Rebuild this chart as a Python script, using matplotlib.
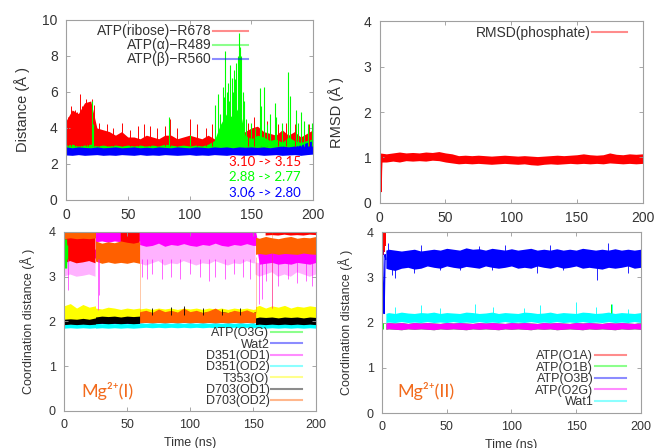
import matplotlib
matplotlib.use('Agg')
import matplotlib.pyplot as plt
from matplotlib.lines import Line2D

plt.rcParams['font.family'] = ['Liberation Sans', 'DejaVu Sans']

nan = float('nan')

RED = '#ff0000'
GREEN = '#00ff00'
BLUE = '#0000ff'
MAGENTA = '#ff00ff'
CYAN = '#00ffff'
YELLOW = '#ffff00'
BLACK = '#000000'
ORANGE = '#ff6000'
NOTE_ORANGE = '#f26b1d'

# ---------------- top left : distances to arginines ----------------
T5 = list(range(0, 201, 5))

ribose_lo = [2.95, 2.9, 2.95, 2.9, 2.95, 2.9, 2.9, 2.95, 2.9, 2.9, 2.95, 2.9, 2.9, 2.95,
             2.9, 2.9, 2.95, 2.9, 2.9, 2.95, 2.9, 2.9, 2.95, 2.9, 2.9, 2.95, 2.9, 2.9,
             2.95, 2.9, 2.9, 2.95, 2.9, 2.9, 2.95, 2.9, 2.9, 2.95, 2.9, 2.9, 2.95]
ribose_hi = [4.4, 5.0, 4.8, 5.4, 5.5, 4.0, 3.9, 3.8, 3.6, 3.8, 3.5, 3.5, 3.4, 3.6, 3.5,
             3.4, 3.6, 3.6, 3.4, 3.5, 3.6, 3.5, 3.4, 3.6, 3.4, 3.3, 3.3, 3.4, 3.5, 3.8,
             4.0, 4.1, 3.8, 3.7, 3.6, 3.9, 3.6, 3.8, 3.5, 3.7, 3.9]
ribose_spike_t = [2, 4, 7, 9, 11, 13, 16, 18, 21, 23, 27, 33, 38, 45, 52, 58, 63, 68, 74,
                  80, 84, 90, 100, 106, 113, 118, 147, 152, 158, 163, 172, 178, 185, 193, 197]
ribose_spike_h = [4.6, 5.2, 5.0, 4.9, 5.9, 5.2, 5.6, 5.4, 5.6, 5.3, 4.3, 4.2, 4.0, 4.3, 3.9,
                  4.1, 4.2, 4.1, 4.0, 4.1, 4.5, 4.0, 4.5, 4.2, 4.0, 4.2, 4.3, 4.6, 4.3, 4.4,
                  4.2, 4.3, 4.2, 4.1, 4.2]

alpha_lo = [2.8, 2.82, 2.8, 2.78, 2.8, 2.82, 2.8, 2.78, 2.8, 2.82, 2.8, 2.78, 2.8, 2.82,
            2.8, 2.78, 2.8, 2.82, 2.8, 2.78, 2.8, 2.82, 2.8, 2.78, 2.8, 2.82, 2.8, 2.78,
            2.8, 2.82, 2.8, 2.78, 2.8, 2.82, 2.8, 2.78, 2.8, 2.82, 2.8, 2.78, 2.8]
alpha_hi = [3.05, 3.1, 3.0, 3.05, 3.1, 3.0, 3.05, 3.0, 3.05, 3.0, 3.05, 3.0, 3.05, 3.0,
            3.05, 3.0, 3.1, 3.05, 3.0, 3.05, 3.0, 3.05, 3.0, 3.1, 3.3, 4.2, 4.8, 4.6,
            5.2, 3.6, 3.4, 3.6, 3.5, 3.3, 3.4, 3.2, 3.5, 3.3, 3.2, 3.3, 3.4]
alpha_spike_t = [21, 22, 83, 100, 121, 123, 125, 127, 128, 129, 130, 131, 132, 133, 134,
                 135, 136, 137, 138, 139, 140, 141, 142, 143, 144, 146, 150, 153, 157, 158,
                 160, 163, 165, 169, 170, 175, 180, 181, 186, 188, 190, 193, 196, 199]
alpha_spike_h = [5.5, 4.2, 4.6, 3.6, 5.3, 5.9, 4.8, 6.3, 5.7, 8.3, 6.0, 6.5, 5.5, 7.5, 6.8,
                 6.0, 7.2, 6.7, 7.6, 8.0, 9.3, 8.5, 8.0, 6.0, 5.5, 4.5, 4.3, 4.0, 6.2, 5.2,
                 6.3, 4.2, 4.8, 5.4, 4.6, 4.3, 7.1, 5.8, 5.0, 4.3, 4.9, 4.4, 4.2, 4.3]

beta_lo = [2.5, 2.48, 2.52, 2.48, 2.5, 2.52, 2.48, 2.5, 2.48, 2.52, 2.5, 2.48, 2.52, 2.48,
           2.5, 2.48, 2.52, 2.5, 2.48, 2.5, 2.52, 2.48, 2.5, 2.48, 2.52, 2.5, 2.48, 2.52,
           2.5, 2.48, 2.5, 2.52, 2.48, 2.5, 2.52, 2.48, 2.5, 2.52, 2.48, 2.52, 2.55]
beta_hi = [2.95, 2.9, 2.95, 2.92, 2.9, 2.95, 2.9, 2.92, 2.95, 2.9, 2.92, 2.95, 2.9, 2.93,
           2.9, 2.95, 2.92, 2.9, 2.95, 2.92, 2.9, 2.95, 2.93, 2.9, 2.95, 2.92, 2.95, 2.9,
           2.95, 2.93, 2.95, 2.92, 2.95, 2.9, 2.95, 3.0, 2.95, 3.0, 3.05, 3.2, 3.3]

top_labels = ['ATP(ribose)−R678', 'ATP(α)−R489', 'ATP(β)−R560']
top_notes = ['3.10 -> 3.15', '2.88 -> 2.77', '3.06 -> 2.80']

# ---------------- top right : phosphate RMSD ----------------
rmsd_lo = [0.9, 0.9, 0.92, 0.9, 0.93, 0.92, 0.93, 0.92, 0.94, 0.93, 0.9, 0.88, 0.86, 0.87,
           0.86, 0.87, 0.86, 0.85, 0.86, 0.87, 0.86, 0.85, 0.86, 0.84, 0.83, 0.85, 0.86,
           0.85, 0.86, 0.87, 0.86, 0.87, 0.86, 0.87, 0.86, 0.88, 0.87, 0.86, 0.87, 0.86, 0.87]
rmsd_hi = [1.1, 1.08, 1.1, 1.12, 1.1, 1.11, 1.1, 1.12, 1.11, 1.13, 1.1, 1.08, 1.04, 1.05,
           1.04, 1.05, 1.04, 1.03, 1.04, 1.05, 1.04, 1.03, 1.04, 1.03, 1.02, 1.03, 1.04,
           1.05, 1.04, 1.05, 1.06, 1.08, 1.06, 1.05, 1.06, 1.1, 1.07, 1.06, 1.08, 1.07, 1.08]
rmsd_start_t = [0, 0.4, 0.7, 1.0, 1.3, 1.7, 2.2]
rmsd_start_v = [1.1, 0.8, 1.05, 0.25, 0.7, 1.0, 0.95]

# ---------------- bottom left : Mg2+(I) coordination ----------------
BL_T = [0, 5, 10, 15, 20, 25,
        25, 30, 35, 40, 45, 50, 55, 60,
        60, 65, 70, 75, 80, 85, 90, 95, 100, 105, 110, 115, 120, 125, 130, 135, 140, 145, 150,
        152,
        152, 155, 160, 165, 170, 175, 180, 185, 190, 195, 200]

red1_lo = [3.3, 3.35, 3.3, 3.32, 3.35, 3.3,
           nan, nan, nan, nan, 3.7, 3.72, 3.7, 3.72,
           nan, nan, nan, nan, nan, nan, nan, nan, nan, nan, nan, nan, nan, nan, nan, nan, nan, nan, nan,
           nan,
           nan, nan, 3.92, 3.93, 3.92, 3.94, 3.92, 3.93, 3.92, 3.94, 3.93]
red1_hi = [3.9, 3.88, 3.9, 3.88, 3.9, 3.88,
           nan, nan, nan, nan, 4.02, 4.02, 4.02, 4.02,
           nan, nan, nan, nan, nan, nan, nan, nan, nan, nan, nan, nan, nan, nan, nan, nan, nan, nan, nan,
           nan,
           nan, nan, 4.02, 4.02, 4.02, 4.02, 4.02, 4.02, 4.02, 4.02, 4.02]

wat2_lo = [1.95, 1.96, 1.95, 1.96, 1.95, 1.96,
           1.95, 1.96, 1.95, 1.96, 1.95, 1.96, 1.95, 1.96,
           1.97, 1.98, 1.97, 1.98, 1.97, 1.98, 1.97, 1.98, 1.97, 1.98, 1.97, 1.98, 1.97, 1.98, 1.97, 1.98, 1.97, 1.98, 1.97,
           1.98,
           1.95, 1.96, 1.95, 1.96, 1.95, 1.96, 1.95, 1.96, 1.95, 1.96, 1.95]
wat2_hi = [2.06, 2.08, 2.07, 2.08, 2.06, 2.08,
           2.07, 2.08, 2.06, 2.08, 2.07, 2.08, 2.06, 2.08,
           2.1, 2.12, 2.1, 2.12, 2.1, 2.12, 2.1, 2.12, 2.1, 2.12, 2.1, 2.12, 2.1, 2.12, 2.1, 2.12, 2.1, 2.12, 2.1,
           2.12,
           2.06, 2.08, 2.07, 2.08, 2.06, 2.08, 2.07, 2.08, 2.06, 2.08, 2.07]

# D351(OD1): dense core and the paler streaky fringe below it
od1_lo = [3.4, 3.42, 3.4, 3.42, 3.4, 3.42,
          3.78, 3.8, 3.77, 3.8, 3.78, 3.8, 3.77, 3.8,
          3.72, 3.68, 3.7, 3.75, 3.68, 3.72, 3.7, 3.74, 3.7, 3.68, 3.72, 3.7, 3.75, 3.7, 3.68, 3.72, 3.7, 3.74, 3.7,
          3.7,
          3.8, 3.28, 3.3, 3.32, 3.28, 3.3, 3.28, 3.32, 3.3, 3.28, 3.32]
od1_hi = [3.6, 3.62, 3.6, 3.62, 3.6, 3.62,
          4.02, 4.02, 4.02, 4.02, 4.02, 4.02, 4.02, 4.02,
          4.02, 4.02, 4.02, 4.02, 4.02, 4.02, 4.02, 4.02, 4.02, 4.02, 4.02, 4.02, 4.02, 4.02, 4.02, 4.02, 4.02, 4.02, 4.02,
          4.02,
          4.02, 3.6, 3.58, 3.6, 3.58, 3.6, 3.6, 3.58, 3.6, 3.6, 3.58]
od1_pale_lo = [3.0, 3.05, 3.0, 3.02, 3.05, 3.0,
               nan, nan, nan, nan, nan, nan, nan, nan,
               3.3, 3.25, 3.3, 3.35, 3.25, 3.3, 3.28, 3.35, 3.3, 3.25, 3.3, 3.28, 3.35, 3.3, 3.25, 3.3, 3.28, 3.35, 3.3,
               3.3,
               3.05, 3.0, 3.05, 3.1, 3.0, 3.05, 3.0, 3.1, 3.05, 3.0, 3.05]
od1_pale_hi = [3.35, 3.35, 3.35, 3.35, 3.35, 3.35,
               nan, nan, nan, nan, nan, nan, nan, nan,
               3.72, 3.7, 3.72, 3.75, 3.7, 3.72, 3.7, 3.74, 3.72, 3.7, 3.72, 3.7, 3.75, 3.72, 3.7, 3.72, 3.7, 3.74, 3.72,
               3.72,
               3.32, 3.3, 3.32, 3.34, 3.3, 3.32, 3.3, 3.34, 3.32, 3.3, 3.32]
od1_dip_t = [3, 27, 28, 62, 66, 70, 78, 85, 92, 100, 108, 115, 120, 128, 135, 142, 148,
             155, 157, 160, 165, 170, 178, 185, 192, 197]
od1_dip_v = [2.7, 2.25, 2.6, 3.0, 2.95, 3.05, 2.95, 3.0, 2.95, 3.05, 3.0, 2.9, 3.0, 2.95,
             3.05, 3.0, 2.95, 2.4, 2.5, 2.9, 2.3, 2.8, 2.95, 2.85, 2.9, 2.8]

od2_lo = [1.85, 1.86, 1.85, 1.86, 1.85, 1.86,
          1.85, 1.86, 1.85, 1.86, 1.85, 1.86, 1.85, 1.86,
          1.86, 1.87, 1.86, 1.87, 1.86, 1.87, 1.86, 1.87, 1.86, 1.87, 1.86, 1.87, 1.86, 1.87, 1.86, 1.87, 1.86, 1.87, 1.86,
          1.87,
          1.85, 1.86, 1.85, 1.86, 1.85, 1.86, 1.85, 1.86, 1.85, 1.86, 1.85]
od2_hi = [1.96, 1.95, 1.96, 1.95, 1.96, 1.95,
          1.96, 1.95, 1.96, 1.95, 1.96, 1.95, 1.96, 1.95,
          1.97, 1.96, 1.97, 1.96, 1.97, 1.96, 1.97, 1.96, 1.97, 1.96, 1.97, 1.96, 1.97, 1.96, 1.97, 1.96, 1.97, 1.96, 1.97,
          1.96,
          1.96, 1.95, 1.96, 1.95, 1.96, 1.95, 1.96, 1.95, 1.96, 1.95, 1.96]

t353_lo = [2.0, 2.02, 2.0, 2.02, 2.0, 2.02,
           2.05, 2.04, 2.05, 2.04, 2.05, 2.04, 2.05, 2.04,
           2.0, 2.02, 2.0, 2.02, 2.0, 2.02, 2.0, 2.02, 2.0, 2.02, 2.0, 2.02, 2.0, 2.02, 2.0, 2.02, 2.0, 2.02, 2.0,
           2.02,
           2.0, 2.02, 2.0, 2.02, 2.0, 2.02, 2.0, 2.02, 2.0, 2.02, 2.0]
t353_hi = [2.35, 2.4, 2.3, 2.38, 2.32, 2.35,
           2.3, 2.28, 2.32, 2.3, 2.27, 2.3, 2.28, 2.3,
           2.28, 2.3, 2.27, 2.3, 2.28, 2.3, 2.27, 2.3, 2.28, 2.3, 2.27, 2.3, 2.28, 2.3, 2.27, 2.3, 2.28, 2.3, 2.27,
           2.28,
           2.33, 2.36, 2.3, 2.35, 2.32, 2.36, 2.3, 2.34, 2.32, 2.35, 2.33]

d703a_lo = [1.93, 1.94, 1.93, 1.94, 1.93, 1.94,
            1.95, 1.96, 1.95, 1.96, 1.95, 1.96, 1.95, 1.96,
            2.0, 2.01, 2.0, 2.01, 2.0, 2.01, 2.0, 2.01, 2.0, 2.01, 2.0, 2.01, 2.0, 2.01, 2.0, 2.01, 2.0, 2.01, 2.0,
            2.01,
            1.93, 1.94, 1.93, 1.94, 1.93, 1.94, 1.93, 1.94, 1.93, 1.94, 1.93]
d703a_hi = [2.05, 2.06, 2.05, 2.07, 2.05, 2.08,
            2.1, 2.12, 2.11, 2.12, 2.1, 2.12, 2.11, 2.12,
            2.2, 2.22, 2.2, 2.22, 2.2, 2.22, 2.2, 2.22, 2.2, 2.22, 2.2, 2.22, 2.2, 2.22, 2.2, 2.22, 2.2, 2.22, 2.2,
            2.22,
            2.08, 2.1, 2.09, 2.1, 2.08, 2.1, 2.09, 2.1, 2.08, 2.1, 2.09]
d703a_spike_t = [70, 85, 95, 110, 125, 140]
d703a_spike_h = [2.3, 2.32, 2.35, 2.3, 2.28, 2.3]

d703b_lo = [3.85, 3.87, 3.85, 3.86, 3.85, 3.87,
            3.35, 3.3, 3.33, 3.3, 3.32, 3.3, 3.33, 3.3,
            1.97, 1.98, 1.97, 1.98, 1.97, 1.98, 1.97, 1.98, 1.97, 1.98, 1.97, 1.98, 1.97, 1.98, 1.97, 1.98, 1.97, 1.98, 1.97,
            1.98,
            3.5, 3.52, 3.5, 3.53, 3.5, 3.52, 3.51, 3.5, 3.53, 3.51, 3.5]
d703b_hi = [4.02, 4.02, 4.02, 4.02, 4.02, 4.02,
            3.8, 3.75, 3.78, 3.76, 3.8, 3.77, 3.75, 3.78,
            2.22, 2.25, 2.2, 2.28, 2.22, 2.25, 2.21, 2.3, 2.22, 2.25, 2.2, 2.24, 2.3, 2.22, 2.2, 2.25, 2.22, 2.26, 2.2,
            2.22,
            3.88, 3.86, 3.9, 3.87, 3.85, 3.88, 3.9, 3.86, 3.88, 3.87, 3.9]
d703b_jump_t = [60, 152, 165]
d703b_jump_lo = [2.2, 2.2, 2.3]
d703b_jump_hi = [3.3, 3.45, 4.0]

o3g_start_t = [0.6, 1.0, 1.4, 1.8, 2.2]
o3g_start_lo = [3.2, 3.25, 3.2, 3.3, 3.4]
o3g_start_hi = [3.85, 3.8, 3.85, 3.75, 3.7]

mg1_labels = ['ATP(O3G)', 'Wat2', 'D351(OD1)', 'D351(OD2)', 'T353(O)', 'D703(OD1)', 'D703(OD2)']
mg1_colors = [GREEN, BLUE, MAGENTA, CYAN, YELLOW, BLACK, ORANGE]

# ---------------- bottom right : Mg2+(II) coordination ----------------
BR_T = [3] + list(range(5, 201, 5))

o3b_lo = [3.2, 3.18, 3.15, 3.2, 3.22, 3.18, 3.2, 3.25, 3.22, 3.2, 3.25, 3.22, 3.2, 3.24,
          3.22, 3.2, 3.25, 3.22, 3.2, 3.22, 3.25, 3.2, 3.22, 3.2, 3.25, 3.22, 3.2, 3.24,
          3.2, 3.22, 3.25, 3.2, 3.22, 3.2, 3.18, 3.22, 3.2, 3.22, 3.25, 3.2, 3.22]
o3b_hi = [3.6, 3.62, 3.6, 3.58, 3.6, 3.62, 3.58, 3.6, 3.62, 3.6, 3.64, 3.62, 3.6, 3.65,
          3.62, 3.63, 3.6, 3.64, 3.62, 3.6, 3.63, 3.6, 3.62, 3.64, 3.6, 3.62, 3.6, 3.63,
          3.6, 3.62, 3.6, 3.64, 3.62, 3.6, 3.62, 3.6, 3.63, 3.6, 3.62, 3.6, 3.62]
o3b_dip_t = [8, 10, 25, 45, 60, 85, 120, 140, 166, 190]
o3b_dip_v = [3.05, 2.98, 3.1, 3.15, 3.15, 3.15, 3.1, 3.15, 2.95, 3.1]
o3b_peak_t = [5, 30, 75, 95, 130, 175]
o3b_peak_v = [3.75, 3.72, 3.7, 3.72, 3.72, 3.75]
o3b_start_t = [0, 0.4, 0.8, 1.2, 1.6, 2.0, 2.4, 3.0]
o3b_start_v = [3.3, 3.6, 3.0, 2.5, 2.2, 2.9, 3.5, 3.4]

o1a_start_t = [0.2, 0.5, 0.8, 1.1, 1.4, 1.7, 2.0, 2.3, 2.6]
o1a_start_lo = [3.55, 3.6, 3.5, 3.65, 3.55, 3.6, 3.7, 3.75, 3.85]

o2g_lo = [1.85, 1.86, 1.85, 1.84, 1.86, 1.85, 1.86, 1.85, 1.84, 1.86, 1.85, 1.86, 1.85,
          1.84, 1.86, 1.85, 1.86, 1.85, 1.84, 1.86, 1.85, 1.86, 1.85, 1.84, 1.86, 1.85,
          1.86, 1.84, 1.85, 1.86, 1.85, 1.84, 1.86, 1.85, 1.86, 1.85, 1.84, 1.86, 1.85, 1.86, 1.85]
o2g_hi = [1.99, 2.0, 1.99, 2.0, 1.98, 2.0, 1.99, 2.0, 1.99, 1.98, 2.0, 1.99, 2.0, 1.99,
          1.98, 2.0, 1.99, 2.0, 1.99, 1.98, 2.0, 1.99, 2.0, 1.99, 1.98, 2.0, 1.99, 2.0,
          1.99, 1.98, 2.0, 1.99, 2.0, 1.99, 1.98, 2.0, 1.99, 2.0, 1.99, 1.98, 2.0]
wat1_lo = [2.0, 2.01, 2.0, 2.02, 2.0, 2.01, 2.0, 2.02, 2.0, 2.01, 2.0, 2.02, 2.0, 2.01,
           2.0, 2.02, 2.0, 2.01, 2.0, 2.02, 2.0, 2.01, 2.0, 2.02, 2.0, 2.01, 2.0, 2.02,
           2.0, 2.01, 2.0, 2.02, 2.0, 2.01, 2.0, 2.02, 2.0, 2.01, 2.0, 2.02, 2.0]
wat1_hi = [2.2, 2.22, 2.2, 2.23, 2.21, 2.2, 2.22, 2.21, 2.23, 2.2, 2.22, 2.21, 2.2, 2.23,
           2.22, 2.2, 2.21, 2.23, 2.2, 2.22, 2.21, 2.2, 2.23, 2.22, 2.2, 2.21, 2.23, 2.2,
           2.22, 2.21, 2.2, 2.23, 2.22, 2.2, 2.21, 2.23, 2.2, 2.22, 2.21, 2.2, 2.22]
wat1_spike_t = [10, 30, 45, 72, 86, 110, 122, 150, 165, 178, 190]
wat1_spike_h = [2.35, 2.38, 2.32, 2.4, 2.35, 2.33, 2.38, 2.45, 2.35, 2.4, 2.3]

mg2_labels = ['ATP(O1A)', 'ATP(O1B)', 'ATP(O3B)', 'ATP(O2G)', 'Wat1']
mg2_colors = [RED, GREEN, BLUE, MAGENTA, CYAN]


def band(ax, t, lo, hi, color, alpha=1.0):
    ax.fill_between(t, lo, hi, color=color, lw=0, alpha=alpha)


def frame(ax, ymax, ystep, fs):
    ax.set_xlim(0, 200)
    ax.set_ylim(0, ymax)
    ax.set_xticks(range(0, 201, 50))
    ax.set_yticks(range(0, ymax + 1, ystep))
    ax.tick_params(direction='in', length=3, width=0.6, color='#999999',
                   top=True, right=True, labelsize=fs, labelcolor='#333333', pad=6)
    for s in ax.spines.values():
        s.set_color('#a0a0a0')
        s.set_linewidth(0.8)


def key(ax, labels, colors, anchor, fs, spacing):
    handles = [Line2D([], [], color=c, lw=1.5, alpha=0.45) for c in colors]
    leg = ax.legend(handles, labels, loc='lower right' if anchor[1] < 0.5 else 'upper right',
                    bbox_to_anchor=anchor, frameon=False, markerfirst=False,
                    handlelength=2.5, handletextpad=0.1, borderpad=0, borderaxespad=0,
                    labelspacing=spacing, fontsize=fs)
    for txt in leg.get_texts():
        txt.set_color('#333333')
    return leg


fig = plt.figure(figsize=(6.57, 4.48), dpi=100)

# top left
ax1 = fig.add_axes([0.1005, 0.5536, 0.376, 0.4018])
band(ax1, T5, ribose_lo, ribose_hi, RED)
ax1.vlines(ribose_spike_t, 3.0, ribose_spike_h, color=RED, lw=0.7)
band(ax1, T5, alpha_lo, alpha_hi, GREEN)
ax1.vlines(alpha_spike_t, 3.0, alpha_spike_h, color=GREEN, lw=0.8)
band(ax1, T5, beta_lo, beta_hi, BLUE)
frame(ax1, 10, 2, 10)
ax1.set_ylabel('Distance (Å )', fontsize=10.5, color='#333333', labelpad=9)
key(ax1, top_labels, [RED, GREEN, BLUE], (0.737, 0.975), 10, 0.0)
for i, (txt, col) in enumerate(zip(top_notes, [RED, GREEN, BLUE])):
    ax1.text(0.66, 0.21 - i * 0.085, txt, transform=ax1.transAxes, color=col,
             fontsize=9.5, family=['Lato', 'DejaVu Sans'], va='center')

# top right
ax2 = fig.add_axes([0.578, 0.547, 0.400, 0.406])
band(ax2, T5, rmsd_lo, rmsd_hi, RED)
ax2.plot(rmsd_start_t, rmsd_start_v, color=RED, lw=1.0)
frame(ax2, 4, 1, 10)
ax2.set_ylabel('RMSD (Å )', fontsize=10.5, color='#333333', labelpad=14)
key(ax2, ['RMSD(phosphate)'], [RED], (0.939, 0.975), 10, 0.0)

# bottom left
ax3 = fig.add_axes([0.0974, 0.0826, 0.3836, 0.3996])
band(ax3, BL_T, wat2_lo, wat2_hi, BLUE)
band(ax3, BL_T, od2_lo, od2_hi, CYAN)
band(ax3, BL_T, od1_pale_lo, od1_pale_hi, MAGENTA, alpha=0.3)
ax3.vlines(od1_dip_t, od1_dip_v, 3.4, color=MAGENTA, lw=0.6, alpha=0.7)
band(ax3, BL_T, od1_lo, od1_hi, MAGENTA)
band(ax3, BL_T, red1_lo, red1_hi, RED)
ax3.vlines(o3g_start_t, o3g_start_lo, o3g_start_hi, color=GREEN, lw=1.0)
band(ax3, BL_T, t353_lo, t353_hi, YELLOW)
band(ax3, BL_T, d703a_lo, d703a_hi, BLACK)
ax3.vlines(d703a_spike_t, 2.15, d703a_spike_h, color=BLACK, lw=0.6)
band(ax3, BL_T, d703b_lo, d703b_hi, ORANGE)
ax3.vlines(d703b_jump_t, d703b_jump_lo, d703b_jump_hi, color=ORANGE, lw=0.6, alpha=0.4)
frame(ax3, 4, 1, 9)
ax3.set_ylabel('Coordination distance (Å )', fontsize=9, color='#333333', labelpad=10)
ax3.set_xlabel('Time (ns)', fontsize=9, color='#333333', labelpad=4)
leg3 = key(ax3, mg1_labels, mg1_colors, (0.944, 0.02), 9, -0.05)
leg3.set_zorder(1.5)
ax3.text(0.07, 0.11, 'Mg²⁺(I)', transform=ax3.transAxes, color=NOTE_ORANGE,
         fontsize=13, family=['Lato', 'DejaVu Sans'], va='center')

# bottom right
ax4 = fig.add_axes([0.5814, 0.0781, 0.394, 0.404])
ax4.vlines(o1a_start_t, o1a_start_lo, 4.05, color=RED, lw=1.4)
band(ax4, BR_T, o2g_lo, o2g_hi, GREEN)
ax4.vlines([1, 177], [1.85, 2.2], [2.0, 2.42], color=GREEN, lw=0.7)
band(ax4, BR_T, o3b_lo, o3b_hi, BLUE)
ax4.vlines(o3b_dip_t, o3b_dip_v, 3.3, color=BLUE, lw=0.6)
ax4.vlines(o3b_peak_t, 3.5, o3b_peak_v, color=BLUE, lw=0.6)
ax4.plot(o3b_start_t, o3b_start_v, color=BLUE, lw=1.0)
band(ax4, BR_T, o2g_lo, o2g_hi, MAGENTA)
band(ax4, BR_T, wat1_lo, wat1_hi, CYAN)
ax4.vlines(wat1_spike_t, 2.15, wat1_spike_h, color=CYAN, lw=0.6)
frame(ax4, 4, 1, 9)
ax4.set_ylabel('Coordination distance (Å )', fontsize=9, color='#333333', labelpad=10)
ax4.set_xlabel('Time (ns)', fontsize=9, color='#333333', labelpad=4)
key(ax4, mg2_labels, mg2_colors, (0.942, 0.028), 9, -0.05)
ax4.text(0.06, 0.12, 'Mg²⁺(II)', transform=ax4.transAxes, color=NOTE_ORANGE,
         fontsize=13, family=['Lato', 'DejaVu Sans'], va='center')

fig.savefig('out.png', dpi=100)
